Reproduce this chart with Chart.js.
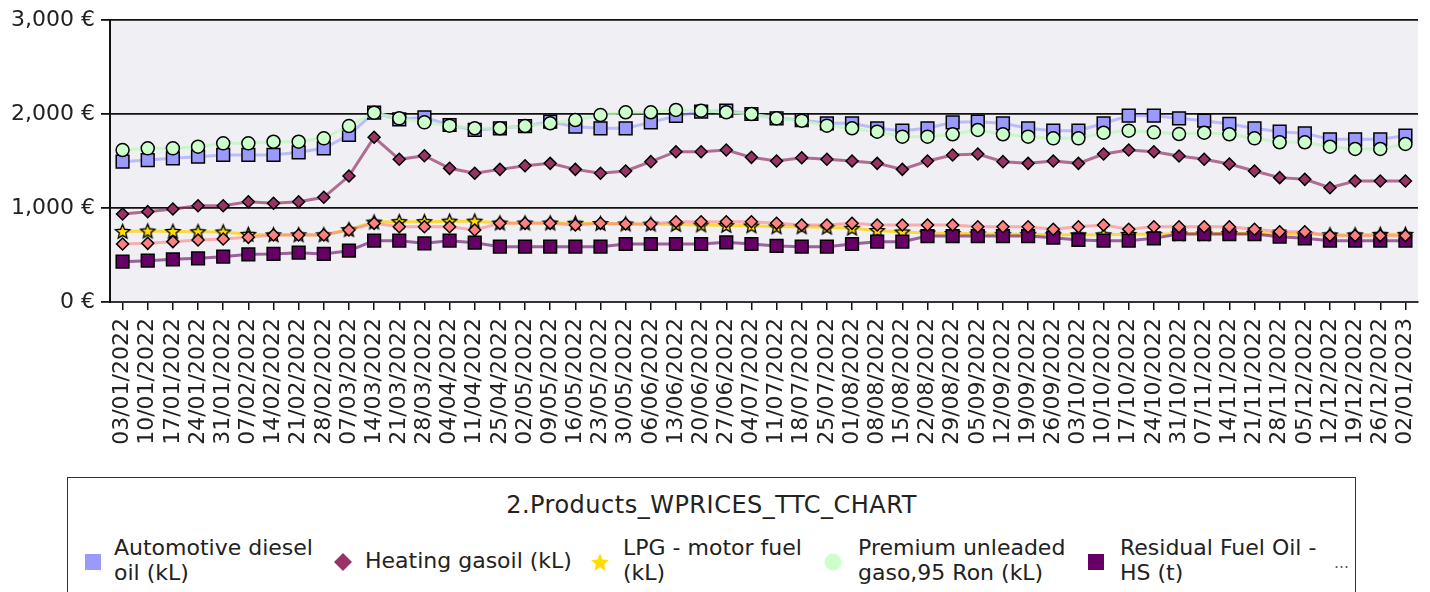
<!DOCTYPE html>
<html>
<head>
<meta charset="utf-8">
<script src="https://cdn.jsdelivr.net/npm/chart.js@4/dist/chart.umd.min.js"></script>
<style>
  body { margin: 0; background: #fff; font-family: 'DejaVu Sans', sans-serif; color: #222; }
  #wrap { position: absolute; left: 0; top: 0; width: 1430px; height: 470px; }
  #legend { position: absolute; left: 67px; top: 477px; width: 1289px; height: 150px;
            border: 1.5px solid #333; box-sizing: border-box; }
  #legend .title { position: absolute; left: 0; right: 0; top: 13px; text-align: center; font-size: 24px; letter-spacing: 0.5px; }
  #legend .item { position: absolute; font-size: 22px; line-height: 25px; white-space: nowrap; }
  #legend svg { position: absolute; }
</style>
</head>
<body>
<div id="wrap"><canvas id="grafico" width="1430" height="470"></canvas></div>
<div id="legend"></div>
<script>
// === DADOS ===
const semanas = ['03/01/2022','10/01/2022','17/01/2022','24/01/2022','31/01/2022','07/02/2022','14/02/2022',
  '21/02/2022','28/02/2022','07/03/2022','14/03/2022','21/03/2022','28/03/2022','04/04/2022','11/04/2022',
  '25/04/2022','02/05/2022','09/05/2022','16/05/2022','23/05/2022','30/05/2022','06/06/2022','13/06/2022',
  '20/06/2022','27/06/2022','04/07/2022','11/07/2022','18/07/2022','25/07/2022','01/08/2022','08/08/2022',
  '15/08/2022','22/08/2022','29/08/2022','05/09/2022','12/09/2022','19/09/2022','26/09/2022','03/10/2022',
  '10/10/2022','17/10/2022','24/10/2022','31/10/2022','07/11/2022','14/11/2022','21/11/2022','28/11/2022',
  '05/12/2022','12/12/2022','19/12/2022','26/12/2022','02/01/2023'];

const diesel = [1493,1510,1528,1546,1564,1564,1564,1592,1635,1777,2014,1943,1965,
  1883,1830,1848,1872,1918,1865,1848,1848,1911,1979,2025,2035,2000,
  1954,1936,1901,1901,1848,1823,1848,1911,1918,1901,1848,1823,1823,
  1901,1982,1982,1954,1929,1894,1848,1812,1794,1731,1731,1731,1770];

const gasoil = [936,961,989,1024,1024,1067,1050,1067,1114,1340,1752,1518,1556,
  1422,1369,1411,1450,1475,1411,1369,1394,1493,1599,1599,1617,1539,
  1500,1535,1518,1500,1475,1411,1500,1564,1574,1493,1475,1500,1475,
  1574,1617,1599,1553,1518,1468,1394,1323,1305,1216,1287,1287,1287];

const gpl = [750,755,750,748,745,720,715,715,715,770,850,855,855,
  860,860,840,840,840,838,835,830,828,825,820,815,810,
  800,800,795,785,760,745,735,730,725,720,720,715,715,
  715,720,720,725,725,730,730,725,720,715,715,720,720];

const premium95 = [1617,1635,1635,1652,1688,1688,1705,1705,1741,1872,2014,1954,1911,
  1876,1848,1848,1872,1901,1936,1989,2018,2018,2043,2035,2018,2000,
  1954,1929,1876,1848,1812,1759,1759,1784,1830,1784,1759,1741,1741,
  1801,1823,1805,1787,1801,1784,1741,1699,1699,1652,1628,1628,1681];

const fuelHS = [429,440,454,465,482,507,511,525,511,546,652,652,624,
  652,631,589,589,589,589,589,617,617,617,617,635,617,
  596,589,589,617,642,642,702,702,702,702,702,684,660,
  652,652,677,723,723,723,723,695,677,652,652,652,652];

const fuelLS = [617,624,642,660,670,688,713,713,713,766,837,801,801,
  801,766,837,837,837,819,837,830,830,854,854,854,854,
  837,819,819,837,819,819,819,819,801,801,801,773,801,
  819,773,801,801,801,801,773,748,748,706,706,706,706];

const yTicks = [0, 1000, 2000, 3000];

// === ESTRELA ===
function desenharEstrela(c, cx, cy, r, fill) {
  c.beginPath();
  for (let i = 0; i < 10; i++) {
    const rr = i % 2 === 0 ? r : r * 0.45;
    const a = -Math.PI / 2 + i * Math.PI / 5;
    c.lineTo(cx + rr * Math.cos(a), cy + rr * Math.sin(a));
  }
  c.closePath();
  c.fillStyle = fill;
  c.fill();
}
function estrela(r, fill, borda) {
  const cv = document.createElement('canvas');
  const s = Math.ceil(r * 2 + 4);
  cv.width = cv.height = s;
  const c = cv.getContext('2d');
  desenharEstrela(c, s / 2, s / 2 + 0.5, r, fill);
  if (borda) { c.strokeStyle = '#000'; c.lineWidth = 1.3; c.stroke(); }
  return cv;
}

// === SERIES ===
const series = [
  { label: 'Automotive diesel oil (kL)', data: diesel, cor: '#9999ff', linha: 'rgba(153,153,255,0.6)', estilo: 'rect', raio: 9 },
  { label: 'Heating gasoil (kL)', data: gasoil, cor: '#993366', linha: 'rgba(153,51,102,0.7)', estilo: 'rectRot', raio: 6 },
  { label: 'LPG - motor fuel (kL)', data: gpl, cor: '#ffdd00', linha: 'rgba(255,210,0,0.75)', estilo: estrela(7.5, '#ffdd00', true), raio: 7 },
  { label: 'Premium unleaded gaso,95 Ron (kL)', data: premium95, cor: '#ccffcc', linha: 'rgba(190,250,190,0.8)', estilo: 'circle', raio: 6.5 },
  { label: 'Residual Fuel Oil - HS (t)', data: fuelHS, cor: '#660066', linha: 'rgba(102,0,102,0.6)', estilo: 'rect', raio: 9 },
  { label: 'Residual Fuel Oil - LS (t)', data: fuelLS, cor: '#ff8080', linha: 'rgba(255,128,128,0.6)', estilo: 'rectRot', raio: 6 }
];

const fundoArea = {
  id: 'fundoArea',
  beforeDraw(chart) {
    const { ctx, chartArea: a } = chart;
    ctx.save();
    ctx.fillStyle = '#efeff4';
    ctx.fillRect(a.left, a.top, a.right - a.left, a.bottom - a.top);
    ctx.restore();
  }
};

// === GRAFICO ===
const ctx = document.getElementById('grafico').getContext('2d');
const grafico = new Chart(ctx, {
  type: 'line',
  data: {
    labels: semanas,
    datasets: series.map((s, i) => ({
      label: s.label,
      data: s.data,
      order: series.length - i,
      borderColor: s.linha,
      borderWidth: 3,
      backgroundColor: s.cor,
      pointBackgroundColor: s.cor,
      pointBorderColor: '#000',
      pointBorderWidth: 1.5,
      pointStyle: s.estilo,
      pointRadius: s.raio,
      tension: 0,
      fill: false
    }))
  },
  options: {
    responsive: false,
    animation: false,
    events: [],
    layout: { padding: { left: 0, right: 12, top: 20, bottom: 0 } },
    plugins: { legend: { display: false }, tooltip: { enabled: false } },
    scales: {
      x: {
        offset: true,
        border: { color: '#333', width: 2 },
        grid: { drawOnChartArea: false, drawTicks: true, tickLength: 8, color: '#111', lineWidth: 1.5, offset: false },
        ticks: { autoSkip: false, minRotation: 90, maxRotation: 90, padding: 8, color: '#222',
                 font: { family: 'DejaVu Sans', size: 22 } },
        afterFit(scale) { scale.height = 168; scale.paddingRight = 0; scale.paddingLeft = 0; }
      },
      y: {
        min: 0, max: 3000,
        afterBuildTicks(scale) { scale.ticks = yTicks.map(v => ({ value: v })); },
        border: { color: '#111', width: 2 },
        grid: { color: '#111', lineWidth: 1.8, tickLength: 9 },
        ticks: { padding: 6, color: '#222', font: { family: 'DejaVu Sans', size: 22 },
                 callback: v => v.toLocaleString('en-US') + ' €' },
        afterFit(scale) { scale.width = 110; scale.paddingTop = 0; scale.paddingBottom = 0; }
      }
    }
  },
  plugins: [fundoArea]
});

// === LEGENDA ===
const legenda = document.getElementById('legend');
const itens = [
  { x: 46, linhas: ['Automotive diesel', 'oil (kL)'], icone: 'quad', cor: '#9999ff', ix: 16 },
  { x: 297, linhas: ['Heating gasoil (kL)'], icone: 'losango', cor: '#993366', ix: 266 },
  { x: 555, linhas: ['LPG - motor fuel', '(kL)'], icone: 'estrela', cor: '#ffdd00', ix: 523 },
  { x: 790, linhas: ['Premium unleaded', 'gaso,95 Ron (kL)'], icone: 'circulo', cor: '#ccffcc', ix: 756 },
  { x: 1052, linhas: ['Residual Fuel Oil -', 'HS (t)'], icone: 'quad', cor: '#660066', ix: 1019 }
];
let html = '<div class="title">2.Products_WPRICES_TTC_CHART</div>';
itens.forEach(it => {
  const topo = it.linhas.length === 2 ? 57 : 70;
  html += `<div class="item" style="left:${it.x}px;top:${topo}px">${it.linhas.join('<br>')}</div>`;
  let forma = '';
  if (it.icone === 'quad') forma = `<rect x="1" y="1" width="16" height="16" fill="${it.cor}"/>`;
  if (it.icone === 'losango') forma = `<polygon points="9,0 18,9 9,18 0,9" fill="${it.cor}"/>`;
  if (it.icone === 'circulo') forma = `<circle cx="9" cy="9" r="8.5" fill="${it.cor}"/>`;
  if (it.icone === 'estrela') {
    const pts = [];
    for (let i = 0; i < 10; i++) {
      const rr = i % 2 === 0 ? 9.5 : 4.3;
      const a = -Math.PI / 2 + i * Math.PI / 5;
      pts.push((9 + rr * Math.cos(a)).toFixed(2) + ',' + (10 + rr * Math.sin(a)).toFixed(2));
    }
    forma = `<polygon points="${pts.join(' ')}" fill="${it.cor}"/>`;
  }
  html += `<svg width="18" height="20" style="left:${it.ix}px;top:75px">${forma}</svg>`;
});
html += '<div class="item" style="left:1266px;top:73px;color:#555;font-size:15px">…</div>';
legenda.innerHTML = html;
</script>
</body>
</html>
